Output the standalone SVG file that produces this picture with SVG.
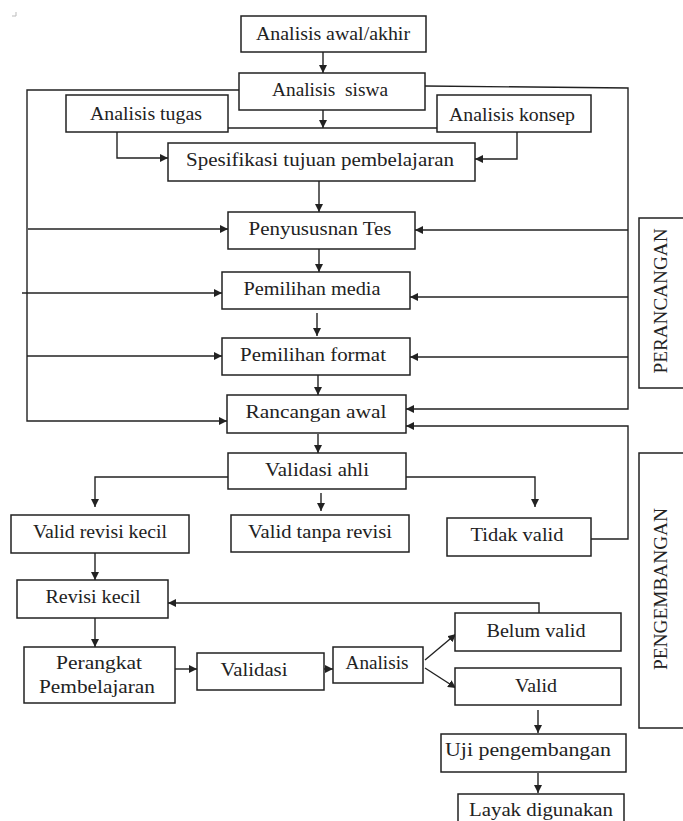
<svg xmlns="http://www.w3.org/2000/svg" width="683" height="821" viewBox="0 0 683 821">
<style>
.b{fill:#fff;stroke:#222;stroke-width:1.5}
.t{font-family:"Liberation Serif","Times New Roman",serif;font-size:18px;fill:#222;text-anchor:middle}
.c{fill:none;stroke:#222;stroke-width:1.4}
.a{marker-end:url(#ah)}
</style>
<defs>
<marker id="ah" markerUnits="userSpaceOnUse" markerWidth="9" markerHeight="8" refX="8" refY="4" orient="auto">
<path d="M0,0 L8,4 L0,8 z" fill="#222"/>
</marker>
</defs>
<rect width="683" height="821" fill="#fff"/>
<path d="M12,16 H16 V12" fill="none" stroke="#bbb" stroke-width="1"/>

<g id="connectors">
<line class="c a" x1="323" y1="52" x2="323" y2="73"/>
<line class="c a" x1="323" y1="110" x2="323" y2="128"/>
<line class="c" x1="228" y1="128" x2="437" y2="128"/>
<polyline class="c a" points="239,90 27,90 27,421 227,421"/>
<polyline class="c a" points="425,86 628,88 628,409 406,409"/>
<polyline class="c a" points="117,132 117,158 168,158"/>
<polyline class="c a" points="517,132 517,159 475,159"/>
<line class="c a" x1="319" y1="181" x2="319" y2="212"/>
<line class="c a" x1="319" y1="249" x2="319" y2="272"/>
<line class="c a" x1="317" y1="313" x2="317" y2="336"/>
<line class="c a" x1="318" y1="375" x2="318" y2="395"/>
<line class="c a" x1="318" y1="434" x2="318" y2="453"/>
<line class="c a" x1="28" y1="229" x2="228" y2="229"/>
<line class="c a" x1="22" y1="293" x2="222" y2="293"/>
<line class="c a" x1="27" y1="356" x2="222" y2="356"/>
<line class="c a" x1="628" y1="230" x2="415" y2="230"/>
<line class="c a" x1="628" y1="297" x2="410" y2="297"/>
<line class="c a" x1="628" y1="357" x2="410" y2="357"/>
<polyline class="c a" points="228,477 95,477 95,507"/>
<polyline class="c a" points="406,477 535,477 535,507"/>
<line class="c a" x1="321" y1="493" x2="321" y2="511"/>
<polyline class="c a" points="591,539 628,539 628,426 406,426"/>
<line class="c a" x1="95" y1="553" x2="95" y2="580"/>
<polyline class="c a" points="539,613 539,603 168,603"/>
<line class="c a" x1="95" y1="618" x2="95" y2="647"/>
<line class="c a" x1="175" y1="669" x2="197" y2="669"/>
<line class="c a" x1="324" y1="669" x2="333" y2="669"/>
<line class="c a" x1="425" y1="660" x2="456" y2="634"/>
<line class="c a" x1="425" y1="668" x2="456" y2="688"/>
<line class="c a" x1="538" y1="710" x2="538" y2="733"/>
<line class="c a" x1="538" y1="773" x2="538" y2="793"/>
</g>

<g id="analisis-awal"><rect class="b" x="241" y="16" width="185" height="36"/><text class="t" x="333" y="40" textLength="154" lengthAdjust="spacingAndGlyphs">Analisis awal/akhir</text></g>
<g id="analisis-siswa"><rect class="b" x="239" y="73" width="186" height="37"/><text class="t" x="330" y="96" textLength="116" lengthAdjust="spacingAndGlyphs" xml:space="preserve">Analisis  siswa</text></g>
<g id="analisis-tugas"><rect class="b" x="66" y="95" width="162" height="37"/><text class="t" x="146" y="120" textLength="112" lengthAdjust="spacingAndGlyphs">Analisis tugas</text></g>
<g id="analisis-konsep"><rect class="b" x="437" y="95" width="154" height="37"/><text class="t" x="512" y="121" textLength="126" lengthAdjust="spacingAndGlyphs">Analisis konsep</text></g>
<g id="spesifikasi"><rect class="b" x="168" y="143" width="307" height="38"/><text class="t" x="320" y="166" textLength="268" lengthAdjust="spacingAndGlyphs">Spesifikasi tujuan pembelajaran</text></g>
<g id="penyususnan"><rect class="b" x="228" y="212" width="187" height="37"/><text class="t" x="320" y="235" textLength="143" lengthAdjust="spacingAndGlyphs">Penyususnan Tes</text></g>
<g id="pemilihan-media"><rect class="b" x="222" y="272" width="188" height="37"/><text class="t" x="312" y="295" textLength="137" lengthAdjust="spacingAndGlyphs">Pemilihan media</text></g>
<g id="pemilihan-format"><rect class="b" x="222" y="338" width="188" height="37"/><text class="t" x="313" y="361" textLength="146" lengthAdjust="spacingAndGlyphs">Pemilihan format</text></g>
<g id="rancangan"><rect class="b" x="227" y="395" width="179" height="38"/><text class="t" x="316" y="418" textLength="141" lengthAdjust="spacingAndGlyphs">Rancangan awal</text></g>
<g id="validasi-ahli"><rect class="b" x="228" y="453" width="178" height="36"/><text class="t" x="317" y="476" textLength="104" lengthAdjust="spacingAndGlyphs">Validasi ahli</text></g>
<g id="valid-revisi-kecil"><rect class="b" x="11" y="515" width="178" height="38"/><text class="t" x="100" y="538" textLength="134" lengthAdjust="spacingAndGlyphs">Valid revisi kecil</text></g>
<g id="valid-tanpa-revisi"><rect class="b" x="231" y="515" width="178" height="37"/><text class="t" x="320" y="538" textLength="144" lengthAdjust="spacingAndGlyphs">Valid tanpa revisi</text></g>
<g id="tidak-valid"><rect class="b" x="447" y="518" width="144" height="38"/><text class="t" x="517" y="541" textLength="93" lengthAdjust="spacingAndGlyphs">Tidak valid</text></g>
<g id="revisi-kecil"><rect class="b" x="17" y="580" width="151" height="38"/><text class="t" x="93" y="603" textLength="95" lengthAdjust="spacingAndGlyphs">Revisi kecil</text></g>
<g id="belum-valid"><rect class="b" x="455" y="613" width="166" height="38"/><text class="t" x="536" y="637" textLength="99" lengthAdjust="spacingAndGlyphs">Belum valid</text></g>
<g id="perangkat"><rect class="b" x="24" y="647" width="151" height="56"/><text class="t" x="99" y="669" textLength="86" lengthAdjust="spacingAndGlyphs">Perangkat</text><text class="t" x="97" y="693" textLength="116" lengthAdjust="spacingAndGlyphs">Pembelajaran</text></g>
<g id="validasi"><rect class="b" x="197" y="653" width="127" height="37"/><text class="t" x="254" y="676" textLength="67" lengthAdjust="spacingAndGlyphs">Validasi</text></g>
<g id="analisis"><rect class="b" x="333" y="647" width="90" height="36"/><text class="t" x="377" y="669" textLength="63" lengthAdjust="spacingAndGlyphs">Analisis</text></g>
<g id="valid"><rect class="b" x="455" y="668" width="166" height="37"/><text class="t" x="536" y="692" textLength="42" lengthAdjust="spacingAndGlyphs">Valid</text></g>
<g id="uji"><rect class="b" x="441" y="734" width="185" height="38"/><text class="t" x="528" y="756" textLength="166" lengthAdjust="spacingAndGlyphs">Uji pengembangan</text></g>
<g id="layak"><rect class="b" x="458" y="794" width="166" height="36"/><text class="t" x="541" y="816" textLength="144" lengthAdjust="spacingAndGlyphs">Layak digunakan</text></g>

<g id="perancangan"><rect class="b" x="639" y="218" width="55" height="170"/><text class="t" transform="translate(667,301) rotate(-90)" textLength="145" lengthAdjust="spacingAndGlyphs">PERANCANGAN</text></g>
<g id="pengembangan"><rect class="b" x="639" y="453" width="55" height="275"/><text class="t" transform="translate(667,589) rotate(-90)" textLength="162" lengthAdjust="spacingAndGlyphs">PENGEMBANGAN</text></g>
</svg>
